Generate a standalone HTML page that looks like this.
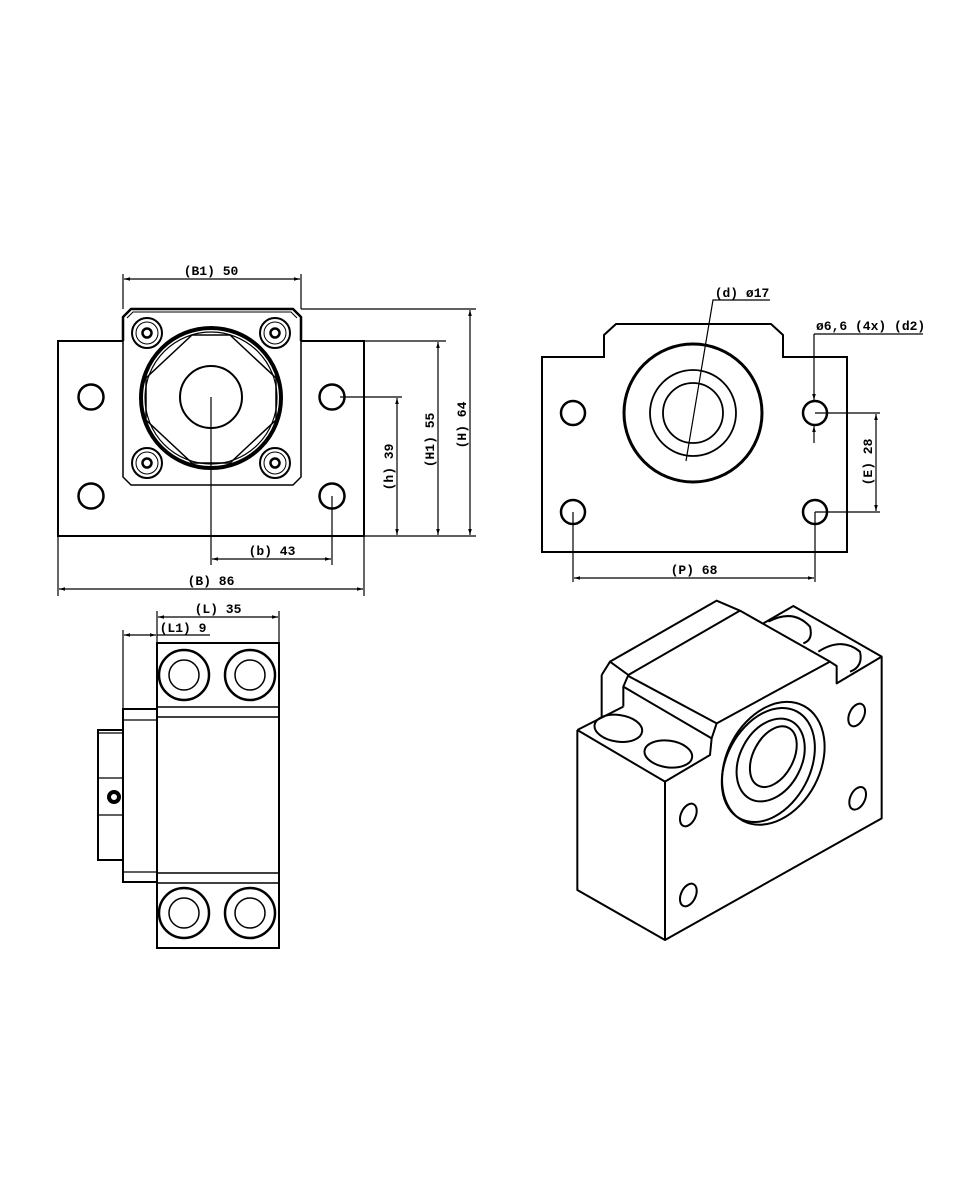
<!DOCTYPE html>
<html><head><meta charset="utf-8"><style>
html,body{margin:0;padding:0;background:#fff;}
svg{display:block}
text{font-family:"Liberation Mono","DejaVu Sans Mono",monospace;font-size:13px;font-weight:bold;fill:#000;}
</style></head><body>
<svg width="960" height="1200" viewBox="0 0 960 1200" xmlns="http://www.w3.org/2000/svg">
<defs>
<marker id="a" viewBox="0 0 10 10" refX="10" refY="5" markerWidth="8" markerHeight="6" orient="auto-start-reverse" markerUnits="userSpaceOnUse"><path d="M0,2 L10,5 L0,8 z" fill="#000"/></marker>
</defs>
<rect width="960" height="1200" fill="#fff"/>

<!-- FRONT VIEW -->
<g fill="none" stroke="#000">
<path d="M123,341 H58 V536 H364 V341 H301" stroke-width="2"/>
<path d="M123,341 V317 L131,309 H293 L301,317 V341" stroke-width="2.5"/>
<path d="M123,341 V477 L131,485 H293 L301,477 V341" stroke-width="1.5"/>
<path d="M127,318 L133,312 H291 L297,318" stroke-width="1"/>
<circle cx="211" cy="398" r="70" stroke-width="4"/>
<circle cx="211" cy="398" r="66" stroke-width="1.2"/>
<path d="M192,335 H230 L276,378 V420 L230,463 H192 L146,420 V378 Z" stroke-width="1.5"/>
<circle cx="211" cy="397" r="31" stroke-width="2"/>
<g stroke-width="2">
<circle cx="147" cy="333" r="15"/><circle cx="275" cy="333" r="15"/><circle cx="147" cy="463" r="15"/><circle cx="275" cy="463" r="15"/>
</g>
<g stroke-width="1">
<circle cx="147" cy="333" r="11"/><circle cx="275" cy="333" r="11"/><circle cx="147" cy="463" r="11"/><circle cx="275" cy="463" r="11"/>
</g>
<g stroke-width="2.5">
<circle cx="147" cy="333" r="4.5"/><circle cx="275" cy="333" r="4.5"/><circle cx="147" cy="463" r="4.5"/><circle cx="275" cy="463" r="4.5"/>
<circle cx="91" cy="397" r="12.5"/><circle cx="332" cy="397" r="12.5"/><circle cx="91" cy="496" r="12.5"/><circle cx="332" cy="496" r="12.5"/>
</g>
<g stroke-width="1.2">
<path d="M123,309 V274 M301,309 V274"/>
<path d="M301,309 H476 M364,341 H446 M340,397 H402 M364,536 H476"/>
<path d="M211,397 V565 M332,496 V565 M58,536 V596 M364,536 V596"/>
<line x1="124" y1="279" x2="300" y2="279" marker-start="url(#a)" marker-end="url(#a)"/>
<line x1="397" y1="398" x2="397" y2="535" marker-start="url(#a)" marker-end="url(#a)"/>
<line x1="438" y1="342" x2="438" y2="535" marker-start="url(#a)" marker-end="url(#a)"/>
<line x1="470" y1="310" x2="470" y2="535" marker-start="url(#a)" marker-end="url(#a)"/>
<line x1="212" y1="559" x2="331" y2="559" marker-start="url(#a)" marker-end="url(#a)"/>
<line x1="59" y1="589" x2="363" y2="589" marker-start="url(#a)" marker-end="url(#a)"/>
</g>
</g>
<text x="211" y="275" text-anchor="middle">(B1) 50</text>
<text x="272" y="555" text-anchor="middle">(b) 43</text>
<text x="211" y="585" text-anchor="middle">(B) 86</text>
<text transform="translate(393,467) rotate(-90)" text-anchor="middle">(h) 39</text>
<text transform="translate(434,440) rotate(-90)" text-anchor="middle">(H1) 55</text>
<text transform="translate(466,425) rotate(-90)" text-anchor="middle">(H) 64</text>

<!-- SIDE VIEW (top right) -->
<g fill="none" stroke="#000">
<path d="M542,357 H604 V335 L616,324 H771 L783,335 V357 H847 V552 H542 Z" stroke-width="2"/>
<circle cx="693" cy="413" r="69" stroke-width="3"/>
<circle cx="693" cy="413" r="43" stroke-width="1.8"/>
<circle cx="693" cy="413" r="30" stroke-width="1.8"/>
<g stroke-width="2.5">
<circle cx="573" cy="413" r="12"/><circle cx="815" cy="413" r="12"/><circle cx="573" cy="512" r="12"/><circle cx="815" cy="512" r="12"/>
</g>
<g stroke-width="1.2">
<path d="M686,461 L713,300 H770"/>
<path d="M923,334 H814"/>
<line x1="814" y1="334" x2="814" y2="400" marker-end="url(#a)"/>
<line x1="814" y1="443" x2="814" y2="426" marker-end="url(#a)"/>
<path d="M815,413 H880 M815,512 H880 M573,512 V582 M815,512 V582"/>
<line x1="876" y1="414" x2="876" y2="511" marker-start="url(#a)" marker-end="url(#a)"/>
<line x1="574" y1="578" x2="814" y2="578" marker-start="url(#a)" marker-end="url(#a)"/>
</g>
</g>
<text x="742" y="297" text-anchor="middle">(d) ø17</text>
<text x="816" y="330">ø6,6 (4x) (d2)</text>
<text transform="translate(872,462) rotate(-90)" text-anchor="middle">(E) 28</text>
<text x="694" y="574" text-anchor="middle">(P) 68</text>

<!-- SIDE VIEW (bottom left) -->
<g fill="none" stroke="#000">
<rect x="157" y="643" width="122" height="305" stroke-width="2"/>
<path d="M157,707 H279 M157,717 H279 M157,873 H279 M157,883 H279" stroke-width="1.5"/>
<rect x="123" y="709" width="34" height="173" stroke-width="2"/>
<path d="M123,720 H157 M123,872 H157" stroke-width="1.2"/>
<rect x="98" y="730" width="25" height="130" stroke-width="2"/>
<path d="M98,733 H123 M98,778 H123 M98,815 H123" stroke-width="1.2"/>
<circle cx="114" cy="797" r="5" stroke-width="4"/>
<g stroke-width="2.5">
<circle cx="184" cy="675" r="25"/><circle cx="250" cy="675" r="25"/><circle cx="184" cy="913" r="25"/><circle cx="250" cy="913" r="25"/>
</g>
<g stroke-width="1.5">
<circle cx="184" cy="675" r="15"/><circle cx="250" cy="675" r="15"/><circle cx="184" cy="913" r="15"/><circle cx="250" cy="913" r="15"/>
</g>
<g stroke-width="1.2">
<path d="M157,643 V611 M279,643 V611 M123,709 V630"/>
<line x1="158" y1="617" x2="278" y2="617" marker-start="url(#a)" marker-end="url(#a)"/>
<line x1="124" y1="635" x2="156" y2="635" marker-start="url(#a)" marker-end="url(#a)"/>
<path d="M157,635 H210"/>
</g>
</g>
<text x="218" y="613" text-anchor="middle">(L) 35</text>
<text x="183" y="632" text-anchor="middle">(L1) 9</text>

<!-- ISOMETRIC -->
<g transform="translate(560,590) scale(0.33333)" fill="none" stroke="#000" stroke-width="6" stroke-linejoin="round">
<path d="M52,420 V900 L315,1050 L965,685 V200 L700,48 L610,100"/>
<path d="M52,420 L315,575 V1050"/>
<path d="M315,575 L450,495 L455,445 L470,400 L810,215 L830,228 V280 L965,200"/>
<path d="M52,420 L190,350"/>
<path d="M125,255 L150,215 L470,32 L540,62 L810,215"/>
<path d="M150,215 L205,255 L540,62"/>
<path d="M125,255 V380"/>
<path d="M205,255 L190,290 V350"/>
<path d="M205,258 L470,400"/>
<path d="M190,290 L455,445"/>
<ellipse cx="175" cy="415" rx="72" ry="40" transform="rotate(8 175 415)"/>
<ellipse cx="325" cy="492" rx="72" ry="40" transform="rotate(8 325 492)"/>
<path d="M625,95 Q700,55 750,110 Q760,150 730,160"/>
<path d="M775,185 Q845,140 900,185 Q910,230 870,245"/>
<ellipse cx="640" cy="520" rx="140" ry="195" transform="rotate(28 640 520)"/>
<ellipse cx="625" cy="525" rx="125" ry="182" transform="rotate(28 625 525)"/>
<ellipse cx="632" cy="510" rx="92" ry="132" transform="rotate(28 632 510)"/>
<ellipse cx="640" cy="500" rx="60" ry="98" transform="rotate(28 640 500)"/>
<ellipse cx="385" cy="675" rx="22" ry="36" transform="rotate(25 385 675)"/>
<ellipse cx="385" cy="915" rx="22" ry="36" transform="rotate(25 385 915)"/>
<ellipse cx="890" cy="375" rx="22" ry="36" transform="rotate(25 890 375)"/>
<ellipse cx="893" cy="625" rx="22" ry="36" transform="rotate(25 893 625)"/>
</g>
</svg>
</body></html>
